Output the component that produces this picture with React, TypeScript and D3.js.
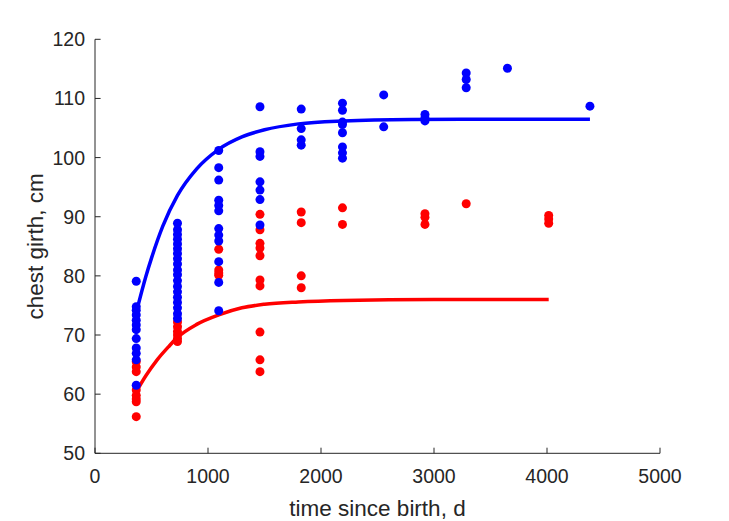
import React from "react";
import * as d3 from "d3";

// Data: ages (days since birth) and chest girth (cm)
const maleAges = [365, 730, 1095, 1460, 1825, 2190, 2555, 2920, 3285, 3650, 4380];
const maleGirth: number[][] = [
  [79.1, 74.8, 74.2, 73.4, 72.5, 71.7, 70.9, 69.4, 67.8, 66.9, 65.8, 61.5],
  [88.9, 87.8, 87.0, 86.2, 85.4, 84.6, 83.8, 82.9, 82.0, 81.0, 80.2, 79.2, 78.2, 77.3, 76.4, 75.5, 74.6, 73.6, 72.8],
  [101.2, 98.3, 96.2, 92.8, 91.9, 91.0, 88.0, 86.9, 85.9, 82.4, 78.9, 74.1],
  [108.6, 101.0, 100.2, 95.9, 94.5, 92.9, 88.6],
  [108.2, 104.9, 103.0, 102.1],
  [109.2, 108.0, 106.0, 105.6, 104.2, 101.8, 100.8, 99.9],
  [110.6, 105.2],
  [107.3, 106.7, 106.2],
  [114.3, 113.2, 111.8],
  [115.1],
  [108.7],
];

const femaleAges = [365, 730, 1095, 1460, 1825, 2190, 2920, 3285, 4015];
const femaleGirth: number[][] = [
  [65.5, 64.6, 63.8, 60.7, 59.8, 59.2, 58.7, 56.2],
  [72.2, 71.4, 70.6, 70.0, 69.4, 68.9],
  [84.5, 81.0, 80.5, 80.1],
  [90.4, 87.8, 85.5, 84.7, 83.4, 79.3, 78.3, 70.5, 65.8, 63.8],
  [90.8, 89.0, 80.0, 78.0],
  [91.5, 88.7],
  [90.5, 89.9, 88.7],
  [92.2],
  [90.2, 89.6, 88.9],
];

// Fitted growth curves
const maleCurveT = [365, 450, 500, 600, 730, 900, 1095, 1300, 1500, 1800, 2200, 2800, 3500, 4380];
const maleCurveY = [73.8, 79.9, 83.0, 88.4, 93.6, 98.1, 101.4, 103.5, 104.7, 105.7, 106.2, 106.45, 106.5, 106.5];
const femaleCurveT = [365, 450, 550, 650, 730, 900, 1095, 1300, 1500, 1800, 2200, 3000, 4015];
const femaleCurveY = [60.4, 63.1, 65.8, 68.0, 69.6, 71.8, 73.4, 74.6, 75.2, 75.6, 75.85, 76.0, 76.0];

const xTicks = [0, 1000, 2000, 3000, 4000, 5000];
const yTicks = [50, 60, 70, 80, 90, 100, 110, 120];

const W = 729;
const H = 521;
const left = 95;
const right = 660;
const top = 39.3;
const bottom = 453.3;
const axisColor = "#262626";
const font = "'Liberation Sans', Arial, Helvetica, sans-serif";

export default function App() {
  const x = d3.scaleLinear().domain([0, 5000]).range([left, right]);
  const y = d3.scaleLinear().domain([50, 120]).range([bottom, top]);
  const line = d3
    .line<[number, number]>()
    .x((d) => x(d[0]))
    .y((d) => y(d[1]))
    .curve(d3.curveMonotoneX);

  const malePts: [number, number][] = [];
  maleAges.forEach((a, i) => maleGirth[i].forEach((g) => malePts.push([a, g])));
  const femalePts: [number, number][] = [];
  femaleAges.forEach((a, i) => femaleGirth[i].forEach((g) => femalePts.push([a, g])));

  const maleCurve = maleCurveT.map((t, i) => [t, maleCurveY[i]] as [number, number]);
  const femaleCurve = femaleCurveT.map((t, i) => [t, femaleCurveY[i]] as [number, number]);

  const tickLen = 5.6;

  return (
    <svg
      width={W}
      height={H}
      style={{ position: "absolute", left: 0, top: 0, background: "#fff" }}
      fontFamily={font}
    >
      <rect x={0} y={0} width={W} height={H} fill="#fff" />
      {/* curves */}
      <path d={line(femaleCurve) || ""} fill="none" stroke="#ff0000" strokeWidth={3.5} />
      <path d={line(maleCurve) || ""} fill="none" stroke="#0000ff" strokeWidth={3.5} />
      {/* points */}
      {femalePts.map((p, i) => (
        <circle key={"f" + i} cx={x(p[0])} cy={y(p[1])} r={4.5} fill="#ff0000" />
      ))}
      {malePts.map((p, i) => (
        <circle key={"m" + i} cx={x(p[0])} cy={y(p[1])} r={4.5} fill="#0000ff" />
      ))}
      {/* axes */}
      <line x1={left} x2={right} y1={bottom} y2={bottom} stroke={axisColor} strokeWidth={1} />
      <line x1={left} x2={left} y1={top} y2={bottom} stroke={axisColor} strokeWidth={1} />
      {xTicks.map((t) => (
        <g key={"xt" + t}>
          <line x1={x(t)} x2={x(t)} y1={bottom} y2={bottom - tickLen} stroke={axisColor} />
          <text x={x(t)} y={bottom + 30} textAnchor="middle" fontSize={19.5} fill={axisColor}>
            {t}
          </text>
        </g>
      ))}
      {yTicks.map((t) => (
        <g key={"yt" + t}>
          <line x1={left} x2={left + tickLen} y1={y(t)} y2={y(t)} stroke={axisColor} />
          <text x={left - 10} y={y(t) + 7} textAnchor="end" fontSize={19.5} fill={axisColor}>
            {t}
          </text>
        </g>
      ))}
      <text x={(left + right) / 2} y={516} textAnchor="middle" fontSize={22.5} fill={axisColor}>
        time since birth, d
      </text>
      <text
        transform={`translate(43, ${(top + bottom) / 2}) rotate(-90)`}
        textAnchor="middle"
        fontSize={22.5}
        fill={axisColor}
      >
        chest girth, cm
      </text>
    </svg>
  );
}
